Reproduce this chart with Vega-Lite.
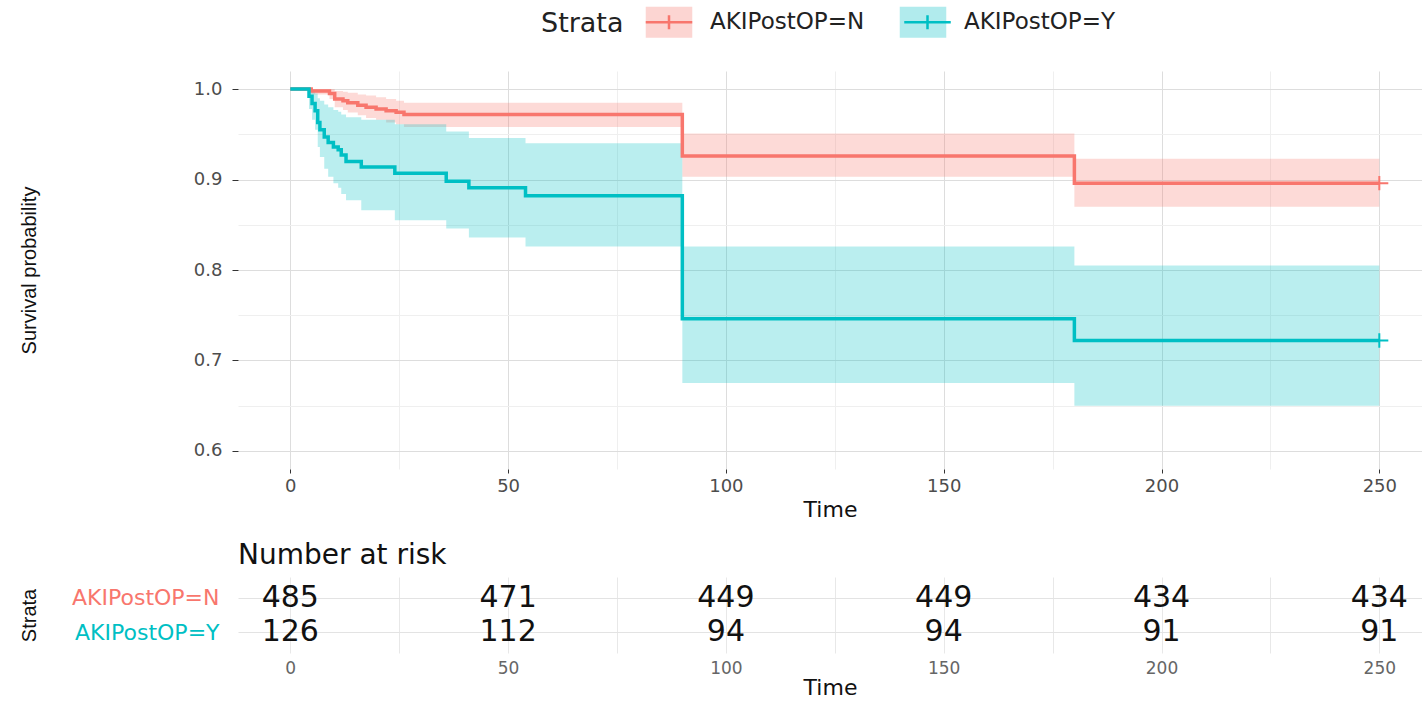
{
  "$schema": "https://vega.github.io/schema/vega-lite/v6.json",
  "background": "#FFFFFF",
  "autosize": {"type": "pad"},
  "padding": {"left": 18, "top": 5, "right": 0, "bottom": 0},
  "spacing": 22,
  "config": {
    "font": "DejaVu Sans",
    "view": {"stroke": null},
    "axis": {"labelFont": "DejaVu Sans", "titleFont": "DejaVu Sans", "titleFontWeight": "normal", "domain": false},
    "legend": {"labelFont": "DejaVu Sans", "titleFont": "DejaVu Sans"}
  },
  "datasets": {
    "km": [
      {"strata": "AKIPostOP=N", "time": 0, "surv": 1.0, "upper": 1.0, "lower": 1.0},
      {"strata": "AKIPostOP=N", "time": 4.8, "surv": 0.998, "upper": 1.0, "lower": 0.994},
      {"strata": "AKIPostOP=N", "time": 9.0, "surv": 0.995, "upper": 1.0, "lower": 0.989},
      {"strata": "AKIPostOP=N", "time": 10.2, "surv": 0.989, "upper": 0.998, "lower": 0.98},
      {"strata": "AKIPostOP=N", "time": 12.1, "surv": 0.987, "upper": 0.997, "lower": 0.977},
      {"strata": "AKIPostOP=N", "time": 13.2, "surv": 0.985, "upper": 0.996, "lower": 0.974},
      {"strata": "AKIPostOP=N", "time": 15.5, "surv": 0.982, "upper": 0.994, "lower": 0.971},
      {"strata": "AKIPostOP=N", "time": 17.4, "surv": 0.98, "upper": 0.993, "lower": 0.968},
      {"strata": "AKIPostOP=N", "time": 19.7, "surv": 0.978, "upper": 0.991, "lower": 0.966},
      {"strata": "AKIPostOP=N", "time": 22.0, "surv": 0.976, "upper": 0.989, "lower": 0.963},
      {"strata": "AKIPostOP=N", "time": 24.3, "surv": 0.9745, "upper": 0.987, "lower": 0.961},
      {"strata": "AKIPostOP=N", "time": 26.1, "surv": 0.972, "upper": 0.985, "lower": 0.958},
      {"strata": "AKIPostOP=N", "time": 90, "surv": 0.926, "upper": 0.951, "lower": 0.903},
      {"strata": "AKIPostOP=N", "time": 180, "surv": 0.896, "upper": 0.923, "lower": 0.87},
      {"strata": "AKIPostOP=N", "time": 250, "surv": 0.896, "upper": 0.923, "lower": 0.87},
      {"strata": "AKIPostOP=Y", "time": 0, "surv": 1.0, "upper": 1.0, "lower": 1.0},
      {"strata": "AKIPostOP=Y", "time": 4.3, "surv": 0.992, "upper": 1.0, "lower": 0.978},
      {"strata": "AKIPostOP=Y", "time": 5.0, "surv": 0.984, "upper": 0.998, "lower": 0.966},
      {"strata": "AKIPostOP=Y", "time": 5.7, "surv": 0.976, "upper": 0.995, "lower": 0.955},
      {"strata": "AKIPostOP=Y", "time": 6.3, "surv": 0.963, "upper": 0.99, "lower": 0.936},
      {"strata": "AKIPostOP=Y", "time": 6.8, "surv": 0.955, "upper": 0.987, "lower": 0.925},
      {"strata": "AKIPostOP=Y", "time": 7.8, "surv": 0.947, "upper": 0.983, "lower": 0.912},
      {"strata": "AKIPostOP=Y", "time": 8.7, "surv": 0.941, "upper": 0.98, "lower": 0.903},
      {"strata": "AKIPostOP=Y", "time": 9.9, "surv": 0.936, "upper": 0.977, "lower": 0.896},
      {"strata": "AKIPostOP=Y", "time": 11.0, "surv": 0.933, "upper": 0.975, "lower": 0.891},
      {"strata": "AKIPostOP=Y", "time": 11.7, "surv": 0.927, "upper": 0.972, "lower": 0.884},
      {"strata": "AKIPostOP=Y", "time": 12.8, "surv": 0.92, "upper": 0.969, "lower": 0.877},
      {"strata": "AKIPostOP=Y", "time": 16.3, "surv": 0.914, "upper": 0.966, "lower": 0.866},
      {"strata": "AKIPostOP=Y", "time": 24.0, "surv": 0.907, "upper": 0.961, "lower": 0.855},
      {"strata": "AKIPostOP=Y", "time": 35.8, "surv": 0.898, "upper": 0.953, "lower": 0.846},
      {"strata": "AKIPostOP=Y", "time": 41.0, "surv": 0.891, "upper": 0.946, "lower": 0.836},
      {"strata": "AKIPostOP=Y", "time": 54.0, "surv": 0.882, "upper": 0.94, "lower": 0.826},
      {"strata": "AKIPostOP=Y", "time": 90, "surv": 0.746, "upper": 0.826, "lower": 0.675},
      {"strata": "AKIPostOP=Y", "time": 180, "surv": 0.722, "upper": 0.805, "lower": 0.65},
      {"strata": "AKIPostOP=Y", "time": 250, "surv": 0.722, "upper": 0.805, "lower": 0.65}
    ],
    "censor": [
      {"strata": "AKIPostOP=N", "time": 250, "surv": 0.896},
      {"strata": "AKIPostOP=Y", "time": 250, "surv": 0.722}
    ],
    "risk": [
      {"strata": "AKIPostOP=N", "time": 0, "n": 485},
      {"strata": "AKIPostOP=N", "time": 50, "n": 471},
      {"strata": "AKIPostOP=N", "time": 100, "n": 449},
      {"strata": "AKIPostOP=N", "time": 150, "n": 449},
      {"strata": "AKIPostOP=N", "time": 200, "n": 434},
      {"strata": "AKIPostOP=N", "time": 250, "n": 434},
      {"strata": "AKIPostOP=Y", "time": 0, "n": 126},
      {"strata": "AKIPostOP=Y", "time": 50, "n": 112},
      {"strata": "AKIPostOP=Y", "time": 100, "n": 94},
      {"strata": "AKIPostOP=Y", "time": 150, "n": 94},
      {"strata": "AKIPostOP=Y", "time": 200, "n": 91},
      {"strata": "AKIPostOP=Y", "time": 250, "n": 91}
    ]
  },
  "vconcat": [
    {
      "width": 1184,
      "height": 398,
      "layer": [
        {
          "data": {"name": "km"},
          "mark": {"type": "area", "interpolate": "step-after", "opacity": 0.27},
          "encoding": {
            "x": {
              "field": "time", "type": "quantitative",
              "scale": {"domain": [-12, 259.8], "nice": false, "zero": false},
              "axis": {
                "values": [0, 25, 50, 75, 100, 125, 150, 175, 200, 225, 250],
                "labelExpr": "datum.value % 50 == 0 ? datum.label : ''",
                "grid": true,
                "gridColor": {"condition": {"test": "datum.value % 50 == 0", "value": "#DDDDDD"}, "value": "#EFEFEF"},
                "tickOpacity": {"condition": {"test": "datum.value % 50 == 0", "value": 1}, "value": 0},
                "tickColor": "#333333", "tickSize": 4,
                "labelFontSize": 18, "labelColor": "#4D4D4D", "labelPadding": 4,
                "title": "Time", "titleFontSize": 22, "titleColor": "#111111", "titlePadding": 4
              }
            },
            "y": {
              "field": "lower", "type": "quantitative",
              "scale": {"domain": [0.58, 1.02], "nice": false, "zero": false},
              "axis": {
                "values": [0.6, 0.65, 0.7, 0.75, 0.8, 0.85, 0.9, 0.95, 1.0],
                "labelExpr": "abs(datum.value*10 - round(datum.value*10)) < 0.001 ? format(datum.value, '.1f') : ''",
                "grid": true,
                "gridColor": {"condition": {"test": "abs(datum.value*10 - round(datum.value*10)) < 0.001", "value": "#DDDDDD"}, "value": "#EFEFEF"},
                "tickOpacity": {"condition": {"test": "abs(datum.value*10 - round(datum.value*10)) < 0.001", "value": 1}, "value": 0},
                "tickColor": "#333333", "tickSize": 6,
                "labelFontSize": 18, "labelColor": "#4D4D4D", "labelPadding": 10,
                "title": "Survival probability", "titleFont": "Liberation Sans", "titleFontSize": 20, "titleColor": "#111111", "titleX": -199
              }
            },
            "y2": {"field": "upper"},
            "fill": {
              "field": "strata", "type": "nominal",
              "scale": {"domain": ["AKIPostOP=N", "AKIPostOP=Y"], "range": ["#F8766D", "#00BFC4"]},
              "legend": {
                "orient": "none", "legendX": 303, "legendY": -66, "direction": "horizontal",
                "title": "Strata", "titleOrient": "left", "titleAnchor": "middle", "titleBaseline": "middle",
                "titleFontSize": 27, "titleFontWeight": "normal", "titleColor": "#222222", "titlePadding": 28,
                "labelFontSize": 23, "labelColor": "#222222", "labelOffset": 24,
                "columnPadding": 29,
                "symbolType": "M-1.5,-1H1.5V1H-1.5Z", "symbolSize": 961, "symbolOpacity": 0.3,
                "symbolStrokeWidth": 2.5, "symbolStrokeColor": "transparent"
              }
            }
          }
        },
        {
          "data": {"name": "km"},
          "mark": {"type": "line", "interpolate": "step-after", "strokeWidth": 3.5},
          "encoding": {
            "x": {"field": "time", "type": "quantitative"},
            "y": {"field": "surv", "type": "quantitative", "title": "Survival probability"},
            "stroke": {
              "field": "strata", "type": "nominal",
              "scale": {"range": ["#F8766D", "#00BFC4"]},
              "legend": {
                "orient": "none", "legendX": 303, "legendY": -66, "direction": "horizontal",
                "title": "Strata", "titleOrient": "left", "titleAnchor": "middle", "titleBaseline": "middle",
                "titleFontSize": 27, "titleFontWeight": "normal", "titleOpacity": 0, "titlePadding": 28,
                "labelFontSize": 23, "labelExpr": "''", "labelOffset": 0,
                "columnPadding": 200.5,
                "symbolType": "M-1.5,-1M1.5,1M-1.5,0H1.5M0,-0.45V0.45", "symbolSize": 961, "symbolStrokeWidth": 2.5,
                "symbolFillColor": "transparent", "symbolOpacity": 1
              }
            }
          }
        },
        {
          "data": {"name": "censor"},
          "mark": {"type": "point", "shape": "M-1,0H1M0,-0.8V0.8", "size": 324, "strokeWidth": 2, "filled": false, "opacity": 1},
          "encoding": {
            "x": {"field": "time", "type": "quantitative"},
            "y": {"field": "surv", "type": "quantitative", "title": "Survival probability"},
            "stroke": {"field": "strata", "type": "nominal"}
          }
        }
      ]
    },
    {
      "width": 1184,
      "height": 76,
      "title": {"text": "Number at risk", "anchor": "start", "frame": "group", "fontSize": 28, "fontWeight": "normal", "font": "DejaVu Sans", "color": "#111111", "offset": 7},
      "data": {"name": "risk"},
      "mark": {"type": "text", "fontSize": 30, "color": "#111111", "font": "DejaVu Sans"},
      "encoding": {
        "x": {
          "field": "time", "type": "quantitative",
          "scale": {"domain": [-12, 259.8], "nice": false, "zero": false},
          "axis": {
            "values": [0, 25, 50, 75, 100, 125, 150, 175, 200, 225, 250],
            "labelExpr": "datum.value % 50 == 0 ? datum.label : ''",
            "grid": true, "gridColor": "#E8E8E8",
            "ticks": false, "tickSize": 0,
            "labelFontSize": 17, "labelColor": "#666666", "labelPadding": 7,
            "title": "Time", "titleFontSize": 22, "titleColor": "#111111", "titlePadding": 1
          }
        },
        "y": {
          "field": "strata", "type": "nominal",
          "sort": ["AKIPostOP=N", "AKIPostOP=Y"],
          "scale": {"type": "point", "padding": 0.6},
          "axis": {
            "grid": true, "gridColor": "#E3E3E3",
            "ticks": false, "tickSize": 0,
            "labelFontSize": 22,
            "labelColor": {"condition": {"test": "datum.value == 'AKIPostOP=N'", "value": "#F8766D"}, "value": "#00BFC4"},
            "labelPadding": 19,
            "title": "Strata", "titleFont": "Liberation Sans", "titleFontSize": 20, "titleColor": "#111111", "titleX": -199
          }
        },
        "text": {"field": "n", "type": "quantitative"}
      }
    }
  ]
}
